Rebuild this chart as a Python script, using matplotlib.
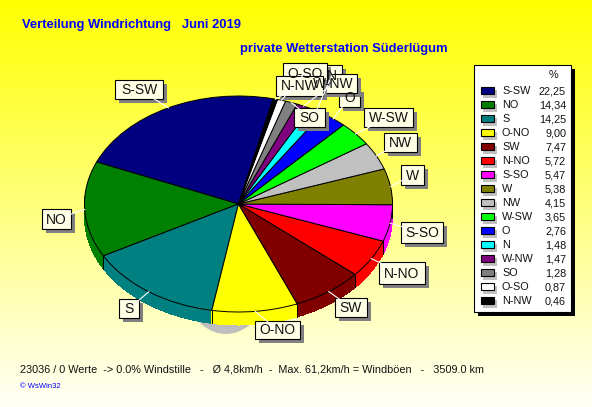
import numpy as np
import matplotlib
matplotlib.use("Agg")
import matplotlib.pyplot as plt
from matplotlib.patches import Rectangle, Ellipse

plt.rcParams['font.family'] = ['Liberation Sans', 'DejaVu Sans']

categories = ["S-SW", "NO", "S", "O-NO", "SW", "N-NO", "S-SO", "W", "NW", "W-SW",
              "O", "N", "W-NW", "SO", "O-SO", "N-NW"]
values = [22.25, 14.34, 14.25, 9.00, 7.47, 5.72, 5.47, 5.38, 4.15, 3.65,
          2.76, 1.48, 1.47, 1.28, 0.87, 0.46]
value_labels = ["22,25", "14,34", "14,25", "9,00", "7,47", "5,72", "5,47", "5,38",
                "4,15", "3,65", "2,76", "1,48", "1,47", "1,28", "0,87", "0,46"]
colors = ["#000080", "#008000", "#008080", "#FFFF00", "#800000", "#FF0000", "#FF00FF", "#808000",
          "#C0C0C0", "#00FF00", "#0000FF", "#00FFFF", "#800080", "#808080", "#FFFFFF", "#000000"]

W, H = 592, 407
CX, CY, RX, RY, DEPTH = 238.5, 204, 154, 108, 13
START = 77

# label boxes in pixels: x0, y0, x1, y1 (drawing order = back to front)
boxes = {
    "S-SW": (115, 80, 163, 99), "NO": (42, 209, 71, 229), "S": (119, 299, 139, 318),
    "O-NO": (255, 321, 300, 339), "SW": (335, 298, 367, 317), "N-NO": (379, 262, 425, 284),
    "S-SO": (401, 222, 443, 243), "W": (401, 165, 424, 185), "NW": (384, 133, 417, 152),
    "W-SW": (364, 108, 413, 127), "SO": (294, 108, 325, 127), "N": (322, 65, 342, 85),
    "O": (339, 88, 360, 107), "W-NW": (309, 74, 357, 93), "O-SO": (283, 63, 327, 83),
    "N-NW": (276, 76, 323, 96),
}
order = ["S-SW", "NO", "S", "O-NO", "SW", "N-NO", "S-SO", "W", "NW", "W-SW", "SO",
         "N", "O", "W-NW", "O-SO", "N-NW"]

fig = plt.figure(figsize=(W / 100, H / 100), dpi=100)

# background gradient and pixel-coordinate axes
bg = fig.add_axes([0, 0, 1, 1], zorder=0)
bg.set_xlim(0, W); bg.set_ylim(H, 0); bg.axis("off")
grad = np.ones((H, 1, 3))
grad[:, 0, 2] = np.linspace(0.0, 0.97, H)
bg.imshow(grad, extent=(0, W, H, 0), aspect="auto", interpolation="bilinear")
bg.add_patch(Ellipse((226, 223), 120, 222, fc="#BEBEBE", ec="none"))

# pie axes: stretched so that the pie becomes an ellipse
extra = DEPTH / RY
pax = fig.add_axes([(CX - RX) / W, 1 - (CY + RY + DEPTH) / H, 2 * RX / W, (2 * RY + DEPTH) / H], zorder=1)
for d in np.linspace(extra, 0.01, DEPTH):
    pax.pie(values, colors=colors, startangle=START, center=(0, -d), radius=1,
            wedgeprops=dict(edgecolor="none", linewidth=0, antialiased=False))
pax.pie(values, colors=colors, startangle=START, center=(0, 0), radius=1,
        wedgeprops=dict(edgecolor="black", linewidth=0.7))
pax.set_aspect("auto")
pax.set_xlim(-1, 1)
pax.set_ylim(-1 - extra, 1)
pax.axis("off")

# vertical side separators on the front rim
cum = np.cumsum(values)
for c in cum:
    t = np.deg2rad(START + c * 3.6)
    if np.sin(t) < 0:
        pax.plot([np.cos(t)] * 2, [np.sin(t), np.sin(t) - extra], color="black", lw=0.7)

# overlay
ov = fig.add_axes([0, 0, 1, 1], zorder=2)
ov.set_xlim(0, W); ov.set_ylim(H, 0); ov.axis("off"); ov.patch.set_alpha(0)

mids = cum - np.array(values) / 2
mid_by_cat = {c: START + m * 3.6 for c, m in zip(categories, mids)}
for cat in order:
    x0, y0, x1, y1 = boxes[cat]
    t = np.deg2rad(mid_by_cat[cat])
    ov.plot([CX + RX * np.cos(t), (x0 + x1) / 2], [CY - RY * np.sin(t), (y0 + y1) / 2],
            color="white", lw=0.8)
for cat in order:
    x0, y0, x1, y1 = boxes[cat]
    ov.add_patch(Rectangle((x0 + 4, y0 + 4), x1 - x0, y1 - y0, fc="#808080", ec="none"))
    ov.add_patch(Rectangle((x0, y0), x1 - x0, y1 - y0, fc="#FFFFE6", ec="black", lw=0.8))
    ov.text((x0 + x1) / 2, (y0 + y1) / 2 + 0.5, cat, ha="center", va="center", fontsize=10, color="#111111")

# titles
ov.text(22, 25, "Verteilung Windrichtung   Juni 2019", color="#0000FF", fontsize=9.4,
        fontweight="bold", va="center", ha="left")
ov.text(240, 49, "private Wetterstation Süderlügum", color="#0000FF", fontsize=9.4,
        fontweight="bold", va="center", ha="left")

# legend
ov.add_patch(Rectangle((478, 69), 97, 247, fc="black", ec="none"))
ov.add_patch(Rectangle((474, 65), 97, 247, fc="white", ec="black", lw=0.8))
ov.text(553, 75, "%", fontsize=7.8, ha="center", va="center", color="#111111")
for i, (cat, lab, col) in enumerate(zip(categories, value_labels, colors)):
    y = 91 + i * 14
    ov.add_patch(Rectangle((483, y - 1), 14, 8, fc="#C0C0C0", ec="none"))
    ov.add_patch(Rectangle((481, y - 4), 13, 7, fc=col, ec="black", lw=0.8))
    ov.text(502, y, cat, fontsize=7.8, ha="left", va="center", color="#111111")
    ov.text(566, y, lab, fontsize=7.8, ha="right", va="center", color="#111111")

# footer
ov.text(20, 369, "23036 / 0 Werte  -> 0.0% Windstille   -   Ø 4,8km/h  -  Max. 61,2km/h = Windböen   -   3509.0 km",
        fontsize=7.8, ha="left", va="center", color="#111111")
ov.text(20, 386, "© WsWin32", fontsize=5.5, ha="left", va="center", color="#0000FF")

fig.savefig("out.png", dpi=100)
